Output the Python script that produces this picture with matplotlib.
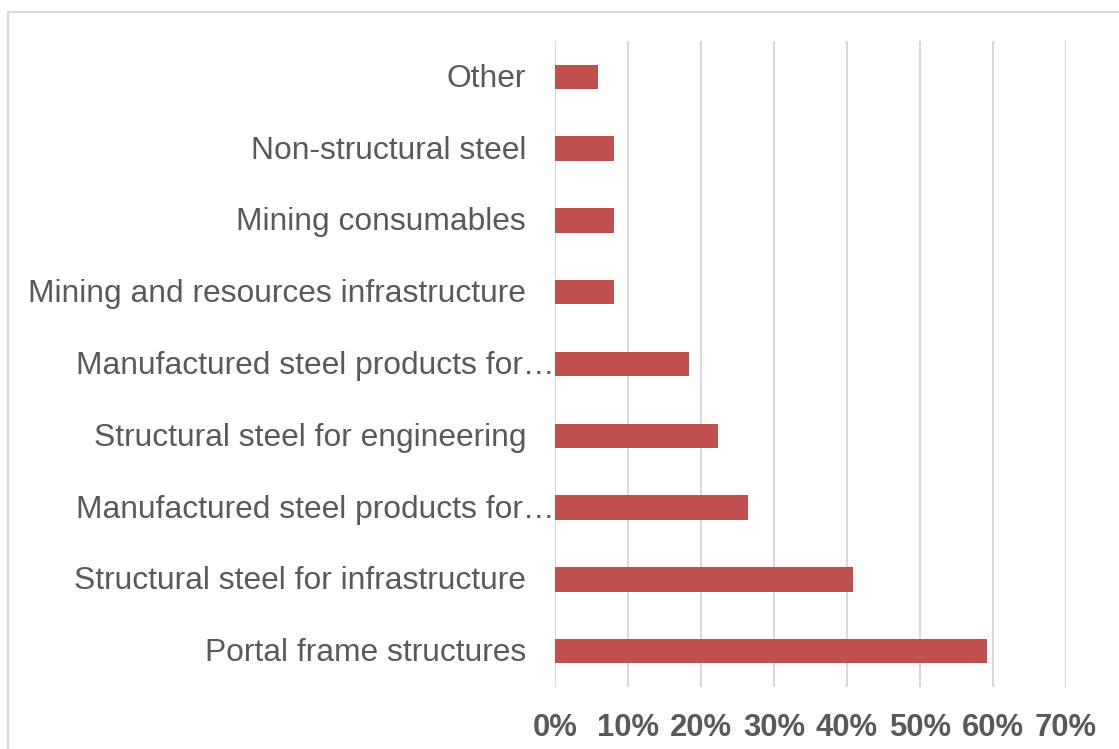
import matplotlib
matplotlib.use("Agg")
import matplotlib.pyplot as plt
import matplotlib.transforms as mtransforms
from matplotlib.patches import Rectangle
from matplotlib.ticker import PercentFormatter

plt.rcParams['font.family'] = ['Liberation Sans', 'DejaVu Sans']

# data, bottom to top as drawn
categories = ['Portal frame structures',
              'Structural steel for infrastructure',
              'Manufactured steel products for\u2026',
              'Structural steel for engineering',
              'Manufactured steel products for\u2026',
              'Mining and resources infrastructure',
              'Mining consumables',
              'Non-structural steel',
              'Other']
values = [59.2, 40.8, 26.4, 22.3, 18.4, 8.1, 8.1, 8.1, 5.9]
xticks = [0, 10, 20, 30, 40, 50, 60, 70]

W, H = 1119, 749
fig = plt.figure(figsize=(W / 100, H / 100), dpi=100)
ax = fig.add_axes([555 / W, 1 - 687 / H, (1066 - 555) / W, (687 - 41) / H])

# chart border
fig.patches.append(Rectangle((8 / W, -0.1), 1.2, 1 - 12 / H + 0.1,
                             transform=fig.transFigure, fill=False,
                             edgecolor='#D9D9D9', linewidth=1.5))

ypos = list(range(len(categories)))
ax.barh(ypos, values, height=0.34, color='#C0504D', zorder=3)

ax.set_xlim(0, 70)
ax.set_ylim(-0.5, len(categories) - 0.5)
ax.set_xticks(xticks)
ax.xaxis.set_major_formatter(PercentFormatter(decimals=0))
ax.grid(axis='x', color='#D9D9D9', linewidth=1.5, zorder=0)
ax.set_yticks([])
for s in ax.spines.values():
    s.set_visible(False)
ax.tick_params(axis='x', length=0, pad=19, labelsize=22.3, labelcolor='#595959')
for lab in ax.get_xticklabels():
    lab.set_fontweight('bold')

trans = mtransforms.blended_transform_factory(ax.transAxes, ax.transData)
for y, name in zip(ypos, categories):
    off = -1 if name.endswith('\u2026') else -29
    t = mtransforms.offset_copy(trans, fig=fig, x=off, y=-2, units='dots')
    ax.text(0, y, name, transform=t, ha='right', va='center',
            fontsize=22.9, color='#595959')

fig.savefig('out.png', dpi=100)
